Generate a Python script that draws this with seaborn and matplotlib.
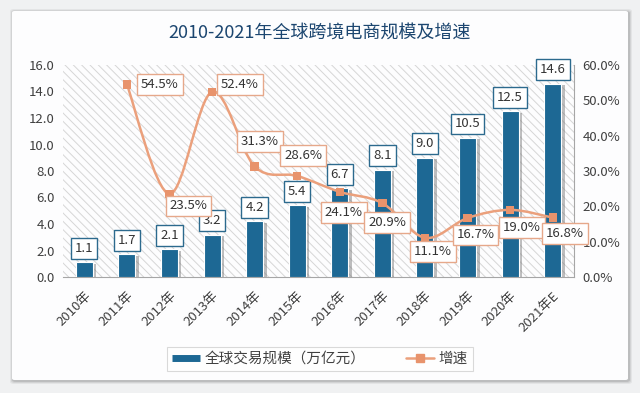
import matplotlib
matplotlib.use('Agg')
import matplotlib.pyplot as plt
import numpy as np
import seaborn as sns
from matplotlib.path import Path
from matplotlib.patches import PathPatch, FancyBboxPatch, Rectangle
from matplotlib.lines import Line2D
import matplotlib.patheffects as pe

# data
years = ['2010年', '2011年', '2012年', '2013年', '2014年', '2015年',
         '2016年', '2017年', '2018年', '2019年', '2020年', '2021年E']
scale = [1.1, 1.7, 2.1, 3.2, 4.2, 5.4, 6.7, 8.1, 9.0, 10.5, 12.5, 14.6]
growth_years = years[1:]
growth = [54.5, 23.5, 52.4, 31.3, 28.6, 24.1, 20.9, 11.1, 16.7, 19.0, 16.8]

title = '2010-2021年全球跨境电商规模及增速'
bar_name = '全球交易规模（万亿元）'
line_name = '增速'

# label offsets for the growth boxes (pixels, dx right / dy down)
growth_offsets = [(33, 0), (19, 12), (28, -7), (5, -25), (6, -20), (4, 21),
                  (5, 19), (8, 14), (8, 17), (12, 18), (12, 16)]

BLUE = '#1d6894'
ORANGE = '#e8936c'
LINE = '#eba07c'
TXT = '#404040'

sns.set_style('white')
plt.rcParams['font.family'] = ['Noto Sans CJK SC', 'DejaVu Sans']
plt.rcParams['hatch.linewidth'] = 0.7


def smooth_path(xs, ys):
    # cubic bezier through all points (catmull-rom style, like excel smoothed lines)
    pts = np.column_stack([xs, ys]).astype(float)
    n = len(pts)
    verts = [pts[0]]
    codes = [Path.MOVETO]
    for i in range(n - 1):
        p0 = pts[i - 1] if i > 0 else pts[i]
        p1 = pts[i]
        p2 = pts[i + 1]
        p3 = pts[i + 2] if i + 2 < n else pts[i + 1]
        c1 = p1 + (p2 - p0) / 6.0
        c2 = p2 - (p3 - p1) / 6.0
        verts += [c1, c2, p2]
        codes += [Path.CURVE4] * 3
    return Path(verts, codes)


fig = plt.figure(figsize=(6.4, 3.93), dpi=100)
fig.patch.set_facecolor('#f0f1f2')

# card behind chart, with a soft shadow
for k, a in enumerate([0.05, 0.07, 0.1]):
    g = 3 - k
    fig.patches.append(FancyBboxPatch(((12 - g + 1) / 640, (13 - g - 1) / 393), (616 + 2 * g) / 640, (369 + 2 * g) / 393,
                                      boxstyle='round,pad=0,rounding_size=0.006',
                                      transform=fig.transFigure, fc='black', alpha=a, ec='none', zorder=-2))
fig.patches.append(FancyBboxPatch((12 / 640, 13 / 393), 616 / 640, 369 / 393,
                                  boxstyle='round,pad=0,rounding_size=0.004',
                                  transform=fig.transFigure, fc='#fdfdfe', ec='none', zorder=-1))

fig.text(0.5, 1 - 33 / 393, title, ha='center', va='center',
         fontsize=13, color='#1c4670')

ax = fig.add_axes([63 / 640, 116 / 393, 511 / 640, 212 / 393])
ax.patch.set_facecolor('#fdfdfe')
ax.add_patch(Rectangle((0, 0), 1, 1, transform=ax.transAxes, fc='none', ec='#d6d6d6',
                       lw=0, hatch='\\\\\\\\', zorder=0))

sns.barplot(x=years, y=scale, color=BLUE, width=0.4, saturation=1, ax=ax,
            edgecolor='white', linewidth=0.8, zorder=3)
for bar in ax.patches[1:]:
    bar.set_path_effects([pe.SimplePatchShadow(offset=(2.5, -1), shadow_rgbFace='#707070', alpha=0.45),
                          pe.Normal()])

ax.set_xlim(-0.5, len(years) - 0.5)
ax.set_ylim(0, 16)
ax.set_yticks(np.arange(0, 16.1, 2))
ax.set_yticklabels([f'{v:.1f}' for v in np.arange(0, 16.1, 2)])
ax.set_xlabel('')
ax.set_ylabel('')
ax.tick_params(axis='y', length=0, labelsize=9.5, labelcolor=TXT, pad=6)
ax.tick_params(axis='x', length=0, labelsize=9.5, labelcolor=TXT, pad=9)
plt.setp(ax.get_xticklabels(), rotation=45, ha='right', rotation_mode='anchor')
for s in ['left', 'top', 'right']:
    ax.spines[s].set_visible(False)
ax.spines['bottom'].set_color('#a6a6a6')

for i, v in enumerate(scale):
    ax.annotate(f'{v:.1f}', xy=(i, v), xytext=(0, 10), textcoords='offset points',
                ha='center', va='center', fontsize=9.5, color='#333333', zorder=6,
                bbox=dict(boxstyle='square,pad=0.3', fc='white', ec='#2c6a8e', lw=1))

ax2 = ax.twinx()
gx = [years.index(y) for y in growth_years]
ax2.add_patch(PathPatch(smooth_path(gx, growth), fc='none', ec=LINE, lw=1.8, zorder=3))
sns.scatterplot(x=gx, y=growth, marker='s', s=36, color=ORANGE, edgecolor='none', ax=ax2, zorder=4)
ax2.set_ylim(0, 60)
ax2.set_yticks(np.arange(0, 61, 10))
ax2.set_yticklabels([f'{v:.1f}%' for v in np.arange(0, 61, 10)])
ax2.set_ylabel('')
ax2.tick_params(axis='y', length=0, labelsize=9.5, labelcolor=TXT, pad=6)
for s in ['left', 'top', 'bottom']:
    ax2.spines[s].set_visible(False)
ax2.spines['right'].set_color('#a6a6a6')
ax2.set_xlim(-0.5, len(years) - 0.5)

for x, v, (dx, dy) in zip(gx, growth, growth_offsets):
    ax2.annotate(f'{v:.1f}%', xy=(x, v), xytext=(dx * 0.72, -dy * 0.72), textcoords='offset points',
                 ha='center', va='center', fontsize=9.5, color='#333333', zorder=7,
                 bbox=dict(boxstyle='square,pad=0.3', fc='white', ec='#e6a88a', lw=1))

handles = [Line2D([], [], color=BLUE, lw=5, solid_capstyle='butt'),
           Line2D([], [], color=LINE, lw=1.8, marker='s', markersize=6,
                  markerfacecolor=ORANGE, markeredgecolor=ORANGE)]
leg = fig.legend(handles, [bar_name, line_name], loc='center', bbox_to_anchor=(0.5, 34 / 393),
                 ncol=2, frameon=True, fontsize=10.5, handlelength=1.9, columnspacing=2.8,
                 handletextpad=0.3, borderpad=0.35, fancybox=False)
leg.get_frame().set_edgecolor('#d0d0d0')
leg.get_frame().set_linewidth(0.8)
for t in leg.get_texts():
    t.set_color(TXT)

fig.savefig('out.png', dpi=100, facecolor=fig.get_facecolor())
